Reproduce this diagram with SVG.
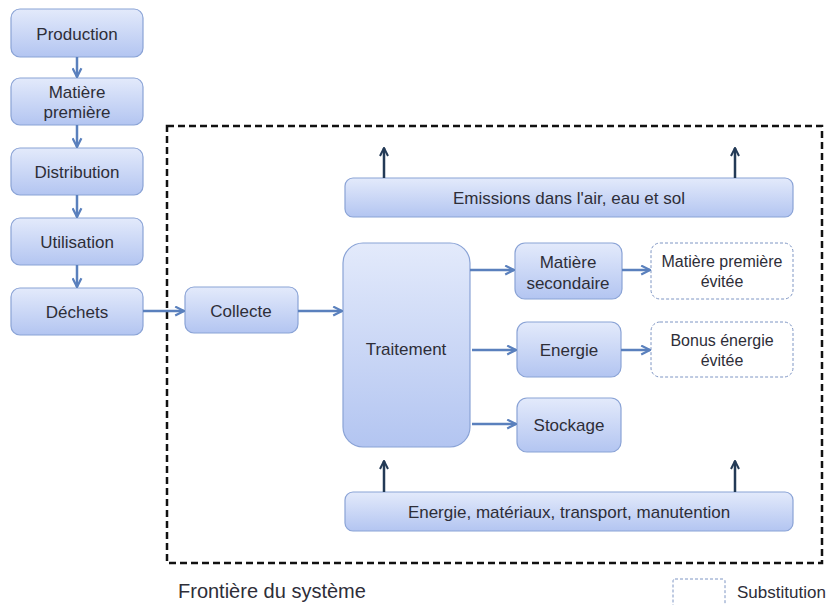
<svg xmlns="http://www.w3.org/2000/svg" width="830" height="605" viewBox="0 0 830 605">
<defs>
<linearGradient id="g" x1="0" y1="0" x2="0" y2="1">
<stop offset="0" stop-color="#e3eafb"/>
<stop offset="1" stop-color="#b3c5f1"/>
</linearGradient>
<marker id="ab" viewBox="0 0 10 10" refX="9" refY="5" markerWidth="11" markerHeight="11" markerUnits="userSpaceOnUse" orient="auto">
<path d="M1,1 L9,5 L1,9" fill="none" stroke="#5a80bd" stroke-width="2"/>
</marker>
<marker id="ad" viewBox="0 0 10 10" refX="9" refY="5" markerWidth="10" markerHeight="10" markerUnits="userSpaceOnUse" orient="auto">
<path d="M1,1 L9,5 L1,9" fill="none" stroke="#233a56" stroke-width="2"/>
</marker>
</defs>
<style>
.n{fill:url(#g);stroke:#8aa3d6;stroke-width:1.2}
.s{fill:#fff;stroke:#7f96c4;stroke-width:1;stroke-dasharray:3,2}
.t{font-family:"Liberation Sans",Arial,sans-serif;font-size:17px;fill:#2e2e38;text-anchor:middle}
.ts{font-family:"Liberation Sans",Arial,sans-serif;font-size:16px;fill:#2e2e38;text-anchor:middle}
.cb{stroke:#5a80bd;stroke-width:2.5;fill:none;marker-end:url(#ab)}
.cd{stroke:#233a56;stroke-width:2.5;fill:none;marker-end:url(#ad)}
</style>
<rect x="167" y="126" width="655" height="437" fill="none" stroke="#111" stroke-width="2.5" stroke-dasharray="7,4"/>
<g id="production"><rect class="n" x="11" y="9" width="132" height="48" rx="9"/><text class="t" x="77" y="40">Production</text></g>
<g id="matiere-premiere"><rect class="n" x="11" y="78" width="132" height="47" rx="9"/><text class="t" x="77" y="98">Matière</text><text class="t" x="77" y="118">première</text></g>
<g id="distribution"><rect class="n" x="11" y="148" width="132" height="47" rx="9"/><text class="t" x="77" y="178">Distribution</text></g>
<g id="utilisation"><rect class="n" x="11" y="218" width="132" height="47" rx="9"/><text class="t" x="77" y="248">Utilisation</text></g>
<g id="dechets"><rect class="n" x="11" y="288" width="132" height="47" rx="9"/><text class="t" x="77" y="318">Déchets</text></g>
<g id="collecte"><rect class="n" x="185" y="287" width="113" height="46" rx="9"/><text class="t" x="241" y="317">Collecte</text></g>
<g id="emissions"><rect class="n" x="345" y="178" width="448" height="39" rx="8"/><text class="t" x="569" y="204">Emissions dans l'air, eau et sol</text></g>
<g id="traitement"><rect class="n" x="343" y="243" width="127" height="204" rx="20"/><text class="t" x="406" y="355">Traitement</text></g>
<g id="matiere-secondaire"><rect class="n" x="515" y="243" width="107" height="56" rx="10"/><text class="t" x="568" y="268">Matière</text><text class="t" x="568" y="289">secondaire</text></g>
<g id="energie"><rect class="n" x="517" y="322" width="104" height="55" rx="10"/><text class="t" x="569" y="356">Energie</text></g>
<g id="stockage"><rect class="n" x="517" y="398" width="104" height="54" rx="10"/><text class="t" x="569" y="431">Stockage</text></g>
<g id="matiere-evitee"><rect class="s" x="651" y="243" width="142" height="56" rx="9"/><text class="ts" x="722" y="267">Matière première</text><text class="ts" x="722" y="287">évitée</text></g>
<g id="bonus-energie"><rect class="s" x="651" y="322" width="142" height="55" rx="9"/><text class="ts" x="722" y="346">Bonus énergie</text><text class="ts" x="722" y="366">évitée</text></g>
<g id="intrants"><rect class="n" x="345" y="492" width="448" height="39" rx="8"/><text class="t" x="569" y="518">Energie, matériaux, transport, manutention</text></g>
<g id="connectors">
<line class="cb" x1="77" y1="57" x2="77" y2="77"/>
<line class="cb" x1="77" y1="125" x2="77" y2="147"/>
<line class="cb" x1="77" y1="195" x2="77" y2="217"/>
<line class="cb" x1="77" y1="265" x2="77" y2="287"/>
<line class="cb" x1="143" y1="311" x2="184" y2="311"/>
<line class="cb" x1="298" y1="311" x2="342" y2="311"/>
<line class="cb" x1="470" y1="270" x2="514" y2="270"/>
<line class="cb" x1="472" y1="350" x2="516" y2="350"/>
<line class="cb" x1="472" y1="424" x2="516" y2="424"/>
<line class="cb" x1="622" y1="270" x2="650" y2="270"/>
<line class="cb" x1="621" y1="350" x2="650" y2="350"/>
<line class="cd" x1="384" y1="178" x2="384" y2="148"/>
<line class="cd" x1="735" y1="178" x2="735" y2="148"/>
<line class="cd" x1="384" y1="492" x2="384" y2="461"/>
<line class="cd" x1="735" y1="492" x2="735" y2="461"/>
</g>
<text x="178" y="598" font-family="'Liberation Sans',Arial,sans-serif" font-size="20" fill="#2e2e38">Frontière du système</text>
<g id="legende"><rect class="s" x="673" y="579" width="52" height="30" rx="2"/><text x="737" y="598" font-family="'Liberation Sans',Arial,sans-serif" font-size="17" fill="#2e2e38">Substitution</text></g>
</svg>
